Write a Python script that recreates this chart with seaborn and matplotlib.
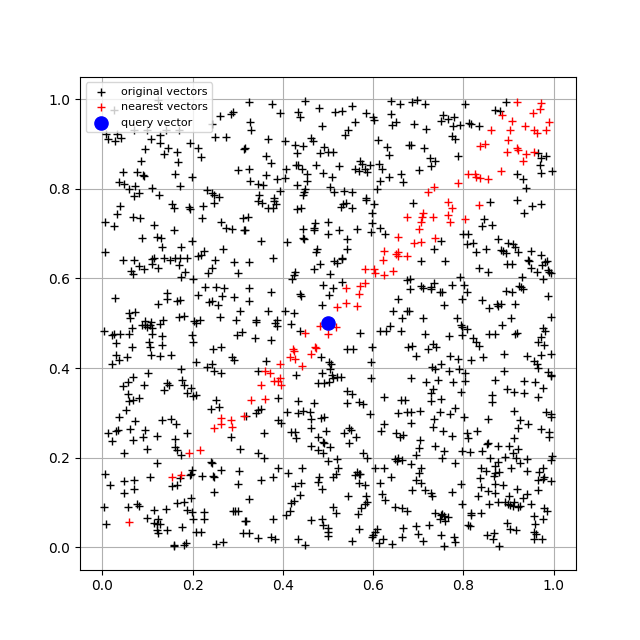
import matplotlib
matplotlib.use("Agg")
import matplotlib.pyplot as plt
import seaborn as sns
import pandas as pd

# ---- original vectors (grouped by region) ----
orig_top = [
 (0.289,0.972),(0.285,0.967),(0.260,0.962),(0.243,0.945),(0.249,0.915),(0.275,0.915),(0.313,0.889),
 (0.009,0.923),(0.012,0.911),(0.027,0.907),(0.033,0.923),(0.042,0.914),(0.108,0.911),(0.128,0.920),
 (0.128,0.903),(0.194,0.903),(0.212,0.890),(0.219,0.871),(0.146,0.892),(0.137,0.878),(0.166,0.883),
 (0.095,0.889),(0.086,0.863),(0.168,0.859),(0.045,0.838),(0.077,0.837),(0.090,0.830),(0.093,0.828),
 (0.161,0.832),(0.199,0.827),(0.300,0.841),(0.038,0.815),(0.048,0.811),(0.073,0.807),(0.060,0.799),
 (0.111,0.801),(0.172,0.806),(0.231,0.797),(0.243,0.791),(0.248,0.785),(0.258,0.782),(0.082,0.790),
 (0.070,0.784),(0.126,0.786),(0.026,0.976),(0.124,0.998),(0.071,0.931),(0.100,0.931),(0.141,0.931),
 (0.170,0.931),
 (0.325,0.994),(0.376,0.989),(0.394,0.969),(0.448,0.996),(0.433,0.972),(0.437,0.959),(0.479,0.980),
 (0.516,0.971),(0.530,0.974),(0.554,0.985),(0.585,0.970),(0.600,0.959),(0.603,0.954),(0.640,0.996),
 (0.659,0.990),(0.640,0.967),(0.642,0.942),(0.651,0.948),(0.327,0.948),(0.330,0.930),(0.367,0.911),
 (0.405,0.906),(0.486,0.941),(0.537,0.920),(0.544,0.930),(0.559,0.950),(0.462,0.914),(0.467,0.906),
 (0.611,0.908),(0.631,0.894),(0.635,0.876),(0.679,0.898),(0.317,0.891),(0.427,0.898),(0.444,0.896),
 (0.431,0.880),(0.492,0.893),(0.483,0.880),(0.499,0.881),(0.511,0.883),(0.363,0.874),(0.374,0.858),
 (0.325,0.843),(0.363,0.830),(0.327,0.818),(0.345,0.810),(0.356,0.808),(0.387,0.821),(0.405,0.824),
 (0.407,0.843),(0.428,0.852),(0.433,0.852),(0.442,0.843),(0.453,0.832),(0.453,0.818),(0.473,0.852),
 (0.490,0.835),(0.508,0.826),(0.525,0.850),(0.559,0.844),(0.568,0.839),(0.570,0.863),(0.576,0.856),
 (0.583,0.844),(0.587,0.838),(0.593,0.852),(0.612,0.856),(0.620,0.845),(0.635,0.827),(0.662,0.834),
 (0.667,0.815),(0.615,0.818),(0.609,0.800),(0.431,0.808),(0.450,0.799),(0.446,0.793),(0.444,0.785),
 (0.505,0.804),(0.513,0.793),(0.536,0.794),(0.554,0.793),(0.585,0.779),(0.393,0.794),(0.347,0.785),
 (0.380,0.779),
 (0.687,0.993),(0.697,0.999),(0.716,0.989),(0.803,0.989),(0.895,0.993),(0.871,0.976),(0.882,0.973),
 (0.755,0.965),(0.751,0.952),(0.765,0.955),(0.779,0.959),(0.778,0.940),(0.793,0.942),(0.813,0.946),
 (0.816,0.945),(0.834,0.939),(0.690,0.945),(0.718,0.933),(0.684,0.898),(0.712,0.892),(0.774,0.918),
 (0.781,0.911),(0.788,0.874),(0.726,0.869),(0.738,0.861),(0.729,0.850),(0.701,0.841),(0.966,0.880),
 (0.972,0.869),(0.983,0.872),(0.970,0.854),(0.996,0.839),(0.971,0.835),(0.919,0.834),(0.933,0.821),
 (0.939,0.801),
]
orig_upper_mid = [
 (0.040,0.762),(0.033,0.743),(0.005,0.726),(0.025,0.717),(0.068,0.737),(0.084,0.735),(0.114,0.720),
 (0.155,0.765),(0.158,0.756),(0.192,0.759),(0.194,0.754),(0.223,0.762),(0.247,0.768),(0.220,0.735),
 (0.263,0.726),(0.275,0.713),(0.288,0.710),(0.313,0.708),(0.311,0.735),(0.158,0.708),(0.087,0.691),
 (0.121,0.693),(0.131,0.689),(0.133,0.671),(0.174,0.669),(0.199,0.683),(0.005,0.658),(0.046,0.640),
 (0.070,0.640),(0.082,0.627),(0.092,0.621),(0.110,0.644),(0.114,0.646),(0.109,0.632),(0.124,0.624),
 (0.136,0.645),(0.150,0.640),(0.161,0.645),(0.171,0.646),(0.187,0.646),(0.170,0.629),(0.183,0.615),
 (0.174,0.602),(0.201,0.599),(0.212,0.651),(0.219,0.652),(0.226,0.660),(0.267,0.666),(0.249,0.641),
 (0.243,0.624),(0.234,0.611),(0.291,0.636),(0.300,0.613),(0.064,0.617),(0.067,0.610),(0.029,0.556),
 (0.124,0.543),(0.143,0.568),(0.143,0.555),(0.166,0.549),(0.172,0.551),(0.212,0.564),(0.227,0.580),
 (0.252,0.580),(0.270,0.579),(0.265,0.560),(0.291,0.558),(0.236,0.548),(0.243,0.549),(0.256,0.540),
 (0.305,0.527),(0.060,0.523),(0.073,0.525),(0.062,0.512),(0.095,0.505),(0.108,0.503),(0.134,0.508),
 (0.170,0.514),(0.182,0.517),(0.204,0.506),(0.216,0.508),(0.260,0.514),(0.297,0.508),
 (0.345,0.772),(0.354,0.769),(0.380,0.772),(0.385,0.765),(0.366,0.756),(0.378,0.757),(0.432,0.754),
 (0.440,0.757),(0.528,0.759),(0.534,0.765),(0.539,0.769),(0.554,0.757),(0.585,0.774),(0.603,0.765),
 (0.598,0.745),(0.323,0.737),(0.317,0.708),(0.351,0.683),(0.410,0.682),(0.444,0.710),(0.471,0.723),
 (0.468,0.713),(0.470,0.708),(0.499,0.726),(0.499,0.700),(0.525,0.708),(0.565,0.710),(0.598,0.723),
 (0.596,0.704),(0.615,0.713),(0.627,0.698),(0.444,0.691),(0.446,0.688),(0.543,0.688),(0.543,0.666),
 (0.475,0.666),(0.473,0.658),(0.514,0.639),(0.519,0.634),(0.532,0.646),(0.530,0.644),(0.483,0.632),
 (0.468,0.621),(0.505,0.610),(0.427,0.615),(0.424,0.608),(0.421,0.599),(0.325,0.636),(0.378,0.645),
 (0.325,0.579),(0.374,0.569),(0.325,0.549),(0.367,0.528),(0.405,0.528),(0.424,0.522),(0.437,0.566),
 (0.440,0.560),(0.490,0.585),(0.510,0.579),(0.532,0.592),(0.503,0.562),(0.486,0.540),(0.341,0.507),
 (0.388,0.508),(0.656,0.554),(0.645,0.528),(0.664,0.512),(0.675,0.527),(0.676,0.597),
 (0.689,0.769),(0.860,0.770),(0.919,0.776),(0.952,0.762),(0.972,0.766),(0.935,0.745),(0.846,0.732),
 (0.841,0.717),(0.863,0.720),(0.799,0.698),(0.810,0.698),(0.809,0.676),(0.822,0.680),(0.876,0.688),
 (0.899,0.680),(0.910,0.676),(0.915,0.671),(0.750,0.683),(0.735,0.665),(0.827,0.658),(0.851,0.665),
 (0.884,0.663),(0.888,0.660),(0.895,0.656),(0.921,0.658),(0.949,0.662),(0.972,0.652),(0.943,0.641),
 (0.946,0.638),(0.897,0.632),(0.907,0.632),(0.707,0.639),(0.759,0.639),(0.835,0.623),(0.854,0.615),
 (0.949,0.623),(0.963,0.614),(0.974,0.629),(0.981,0.636),(0.985,0.638),(0.987,0.619),(0.990,0.614),
 (0.994,0.612),(0.929,0.604),(0.976,0.599),(0.682,0.599),(0.792,0.602),(0.735,0.590),(0.728,0.580),
 (0.729,0.577),(0.711,0.579),(0.706,0.582),(0.682,0.577),(0.748,0.570),(0.753,0.570),(0.775,0.585),
 (0.801,0.585),(0.809,0.570),(0.757,0.540),(0.797,0.553),(0.841,0.551),(0.857,0.533),(0.875,0.543),
 (0.876,0.538),(0.884,0.543),(0.895,0.571),(0.907,0.570),(0.915,0.543),(0.924,0.582),(0.928,0.580),
 (0.931,0.577),(0.988,0.560),(0.994,0.514),(0.906,0.511),(0.711,0.512),(0.785,0.511),(0.679,0.527),
]
orig_lower_mid = [
 (0.004,0.483),(0.021,0.474),(0.026,0.477),(0.040,0.477),(0.060,0.475),(0.066,0.489),(0.087,0.496),
 (0.095,0.497),(0.100,0.492),(0.106,0.496),(0.111,0.475),(0.111,0.490),(0.127,0.499),(0.133,0.472),
 (0.031,0.455),(0.066,0.447),(0.104,0.459),(0.106,0.446),(0.133,0.452),(0.031,0.430),(0.036,0.418),
 (0.055,0.425),(0.108,0.430),(0.128,0.427),(0.153,0.430),(0.021,0.409),(0.199,0.474),(0.201,0.457),
 (0.207,0.501),(0.245,0.442),(0.262,0.447),(0.287,0.425),(0.292,0.418),(0.298,0.474),(0.309,0.481),
 (0.207,0.413),(0.232,0.403),(0.242,0.409),(0.247,0.393),(0.264,0.388),(0.174,0.398),(0.102,0.389),
 (0.069,0.379),(0.056,0.368),(0.045,0.359),(0.093,0.363),(0.144,0.366),(0.148,0.363),(0.137,0.351),
 (0.177,0.373),(0.182,0.363),(0.197,0.356),(0.187,0.344),(0.201,0.337),(0.207,0.339),(0.056,0.342),
 (0.058,0.326),(0.067,0.328),(0.082,0.334),(0.053,0.306),(0.038,0.291),(0.073,0.282),(0.133,0.283),
 (0.152,0.287),(0.164,0.274),(0.187,0.256),(0.012,0.255),(0.031,0.260),(0.034,0.261),(0.062,0.263),
 (0.095,0.261),(0.089,0.246),(0.121,0.249),(0.160,0.241),(0.021,0.238),(0.067,0.239),(0.251,0.329),
 (0.240,0.309),(0.258,0.313),(0.285,0.246),
 (0.341,0.503),(0.383,0.501),(0.386,0.494),(0.417,0.499),(0.437,0.483),(0.339,0.468),(0.373,0.462),
 (0.572,0.479),(0.615,0.483),(0.629,0.483),(0.637,0.494),(0.662,0.483),(0.543,0.442),(0.556,0.442),
 (0.598,0.447),(0.678,0.447),(0.484,0.424),(0.503,0.413),(0.506,0.410),(0.363,0.415),(0.596,0.413),
 (0.344,0.393),(0.429,0.385),(0.486,0.388),(0.505,0.398),(0.508,0.385),(0.478,0.366),(0.492,0.367),
 (0.503,0.368),(0.512,0.378),(0.519,0.381),(0.528,0.379),(0.596,0.378),(0.541,0.348),(0.554,0.341),
 (0.543,0.322),(0.568,0.324),(0.578,0.320),(0.623,0.335),(0.662,0.328),(0.671,0.328),(0.390,0.334),
 (0.433,0.326),(0.470,0.322),(0.345,0.307),(0.352,0.309),(0.341,0.300),(0.410,0.302),(0.433,0.300),
 (0.444,0.304),(0.461,0.302),(0.462,0.287),(0.484,0.289),(0.492,0.291),(0.594,0.298),(0.654,0.300),
 (0.675,0.302),(0.319,0.294),(0.389,0.283),(0.395,0.277),(0.462,0.267),(0.495,0.260),(0.547,0.267),
 (0.550,0.261),(0.536,0.254),(0.561,0.245),(0.618,0.260),(0.623,0.275),(0.651,0.255),(0.659,0.245),
 (0.666,0.250),(0.358,0.255),(0.418,0.258),(0.426,0.258),(0.429,0.243),(0.478,0.245),(0.490,0.235),
 (0.794,0.497),(0.797,0.492),(0.809,0.486),(0.716,0.477),(0.768,0.472),(0.797,0.474),(0.821,0.466),
 (0.829,0.457),(0.834,0.449),(0.857,0.477),(0.869,0.475),(0.885,0.496),(0.915,0.475),(0.919,0.479),
 (0.976,0.489),(0.981,0.483),(0.971,0.469),(0.965,0.457),(0.979,0.452),(0.687,0.449),(0.721,0.442),
 (0.733,0.453),(0.740,0.447),(0.694,0.427),(0.770,0.427),(0.787,0.420),(0.816,0.418),(0.843,0.425),
 (0.891,0.432),(0.941,0.427),(0.972,0.430),(0.994,0.432),(0.957,0.415),(0.963,0.409),(0.966,0.401),
 (0.731,0.403),(0.738,0.398),(0.751,0.409),(0.768,0.393),(0.790,0.398),(0.804,0.389),(0.684,0.378),
 (0.718,0.368),(0.733,0.354),(0.743,0.373),(0.778,0.368),(0.803,0.370),(0.794,0.346),(0.728,0.344),
 (0.728,0.326),(0.751,0.331),(0.869,0.373),(0.890,0.393),(0.897,0.354),(0.913,0.346),(0.935,0.344),
 (0.935,0.372),(0.959,0.368),(0.976,0.356),(0.966,0.335),(0.987,0.390),(0.993,0.385),(0.994,0.382),
 (0.863,0.339),(0.863,0.324),(0.684,0.302),(0.704,0.304),(0.748,0.302),(0.770,0.297),(0.782,0.311),
 (0.801,0.291),(0.735,0.287),(0.733,0.269),(0.755,0.260),(0.775,0.248),(0.684,0.277),(0.704,0.239),
 (0.809,0.254),(0.810,0.243),(0.831,0.259),(0.854,0.287),(0.913,0.304),(0.926,0.283),(0.943,0.275),
 (0.922,0.267),(0.972,0.263),(0.983,0.302),(0.993,0.297),(0.994,0.291),(0.990,0.258),(0.990,0.246),
 (0.912,0.244),(0.854,0.233),
]
orig_bottom = [
 (0.048,0.211),(0.099,0.220),(0.160,0.224),(0.166,0.217),(0.174,0.205),(0.304,0.220),(0.121,0.187),
 (0.241,0.190),(0.243,0.187),(0.263,0.173),(0.302,0.170),(0.199,0.173),(0.196,0.163),(0.005,0.163),
 (0.016,0.139),(0.049,0.148),(0.070,0.151),(0.106,0.156),(0.071,0.130),(0.048,0.121),(0.155,0.137),
 (0.165,0.139),(0.172,0.154),(0.194,0.161),(0.221,0.159),(0.245,0.159),(0.247,0.156),(0.300,0.141),
 (0.247,0.124),(0.197,0.111),(0.165,0.099),(0.181,0.102),(0.077,0.097),(0.082,0.092),(0.056,0.089),
 (0.004,0.089),(0.114,0.084),(0.141,0.086),(0.187,0.084),(0.199,0.078),(0.225,0.078),(0.289,0.082),
 (0.295,0.082),(0.300,0.082),(0.100,0.065),(0.124,0.063),(0.122,0.052),(0.115,0.055),(0.128,0.052),
 (0.121,0.038),(0.124,0.032),(0.144,0.038),(0.177,0.045),(0.201,0.062),(0.226,0.063),(0.316,0.058),
 (0.207,0.034),(0.218,0.035),(0.311,0.032),(0.009,0.052),(0.158,0.006),(0.159,0.003),(0.181,0.006),
 (0.185,0.010),(0.251,0.007),(0.267,0.012),
 (0.345,0.210),(0.358,0.200),(0.462,0.226),(0.477,0.218),(0.488,0.210),(0.492,0.232),(0.505,0.224),
 (0.547,0.232),(0.499,0.193),(0.519,0.196),(0.523,0.178),(0.512,0.156),(0.517,0.163),(0.481,0.156),
 (0.478,0.146),(0.486,0.131),(0.440,0.143),(0.426,0.136),(0.437,0.117),(0.424,0.104),(0.418,0.098),
 (0.415,0.080),(0.407,0.071),(0.390,0.178),(0.442,0.176),(0.412,0.165),(0.378,0.156),(0.351,0.151),
 (0.325,0.108),(0.578,0.210),(0.587,0.200),(0.565,0.168),(0.568,0.163),(0.572,0.163),(0.559,0.161),
 (0.568,0.143),(0.581,0.139),(0.605,0.176),(0.623,0.178),(0.640,0.156),(0.615,0.143),(0.620,0.119),
 (0.627,0.106),(0.544,0.114),(0.585,0.115),(0.587,0.100),(0.583,0.097),(0.574,0.087),(0.566,0.075),
 (0.510,0.089),(0.517,0.076),(0.649,0.198),(0.653,0.193),(0.654,0.200),(0.664,0.195),(0.649,0.089),
 (0.664,0.087),(0.675,0.082),(0.462,0.060),(0.486,0.062),(0.488,0.050),(0.499,0.043),(0.499,0.034),
 (0.499,0.025),(0.319,0.058),(0.378,0.062),(0.325,0.032),(0.344,0.021),(0.374,0.023),(0.383,0.019),
 (0.433,0.018),(0.448,0.004),(0.554,0.013),(0.568,0.040),(0.600,0.027),(0.605,0.035),(0.609,0.040),
 (0.598,0.023),(0.622,0.019),(0.612,0.010),(0.642,0.008),(0.664,0.023),(0.667,0.043),
 (0.701,0.222),(0.696,0.205),(0.738,0.227),(0.757,0.215),(0.753,0.200),(0.797,0.215),(0.814,0.213),
 (0.841,0.215),(0.853,0.230),(0.876,0.226),(0.902,0.226),(0.921,0.220),(0.910,0.210),(0.917,0.200),
 (0.893,0.202),(0.860,0.200),(0.876,0.190),(0.869,0.182),(0.871,0.165),(0.868,0.159),(0.878,0.168),
 (0.849,0.170),(0.840,0.176),(0.836,0.154),(0.838,0.134),(0.854,0.126),(0.871,0.121),(0.871,0.141),
 (0.888,0.139),(0.906,0.178),(0.926,0.187),(0.941,0.196),(0.941,0.170),(0.968,0.167),(0.976,0.178),
 (0.965,0.151),(0.979,0.156),(0.976,0.152),(0.993,0.148),(0.996,0.204),(0.994,0.195),(0.684,0.185),
 (0.706,0.176),(0.701,0.165),(0.696,0.151),(0.707,0.143),(0.687,0.128),(0.716,0.128),(0.729,0.121),
 (0.731,0.115),(0.775,0.124),(0.782,0.187),(0.794,0.141),(0.832,0.115),(0.856,0.097),(0.876,0.100),
 (0.893,0.100),(0.899,0.097),(0.904,0.094),(0.912,0.102),(0.910,0.092),(0.922,0.089),(0.926,0.092),
 (0.950,0.097),(0.902,0.114),(0.932,0.109),(0.941,0.119),(0.919,0.131),(0.966,0.128),(0.978,0.087),
 (0.985,0.080),(0.976,0.063),(0.956,0.069),(0.959,0.052),(0.956,0.035),(0.961,0.030),(0.956,0.018),
 (0.974,0.018),(0.797,0.097),(0.816,0.077),(0.816,0.072),(0.838,0.077),(0.810,0.050),(0.814,0.047),
 (0.738,0.077),(0.750,0.072),(0.753,0.075),(0.757,0.069),(0.748,0.062),(0.760,0.058),(0.765,0.067),
 (0.696,0.047),(0.724,0.050),(0.699,0.030),(0.711,0.015),(0.750,0.028),(0.779,0.023),(0.782,0.012),
 (0.757,0.003),(0.853,0.027),(0.868,0.032),(0.865,0.019),(0.878,0.003),(0.897,0.055),(0.904,0.040),
 (0.917,0.038),
]

# ---- nearest vectors ----
nearest = [
 (0.919,0.993),(0.971,0.992),(0.970,0.979),(0.954,0.970),(0.886,0.965),(0.908,0.951),(0.990,0.950),
 (0.937,0.939),(0.956,0.931),(0.963,0.925),(0.983,0.930),(0.862,0.931),(0.904,0.930),(0.899,0.908),
 (0.836,0.896),(0.847,0.900),(0.918,0.892),(0.922,0.887),(0.897,0.883),(0.939,0.878),(0.957,0.881),
 (0.932,0.861),(0.810,0.832),(0.825,0.832),(0.829,0.827),(0.836,0.823),(0.854,0.821),(0.884,0.839),
 (0.787,0.813),(0.735,0.804),(0.721,0.793),
 (0.765,0.770),(0.774,0.756),(0.834,0.763),(0.711,0.745),(0.709,0.737),(0.706,0.725),(0.733,0.737),
 (0.766,0.742),(0.770,0.725),(0.804,0.732),(0.701,0.710),(0.738,0.691),(0.690,0.680),(0.706,0.682),
 (0.675,0.737),(0.656,0.693),(0.623,0.660),(0.622,0.641),(0.651,0.654),(0.656,0.658),(0.654,0.651),
 (0.676,0.651),(0.583,0.621),(0.601,0.621),(0.605,0.612),(0.625,0.608),(0.644,0.617),(0.539,0.579),
 (0.571,0.582),(0.583,0.590),(0.568,0.566),(0.539,0.544),(0.521,0.537),(0.565,0.538),
 (0.483,0.494),(0.517,0.492),(0.499,0.477),(0.448,0.479),(0.422,0.442),(0.424,0.437),(0.471,0.447),
 (0.473,0.444),(0.462,0.432),(0.415,0.424),(0.427,0.420),(0.393,0.410),(0.442,0.405),(0.360,0.394),
 (0.371,0.388),(0.393,0.378),(0.380,0.372),(0.389,0.372),(0.396,0.363),(0.351,0.361),(0.330,0.328),
 (0.361,0.331),
 (0.264,0.289),(0.262,0.275),(0.247,0.267),(0.286,0.285),(0.287,0.269),(0.313,0.293),
 (0.192,0.211),(0.216,0.218),(0.155,0.156),(0.174,0.161),(0.060,0.056),
]

query = [(0.5, 0.5)]

orig = orig_top + orig_upper_mid + orig_lower_mid + orig_bottom
df_o = pd.DataFrame(orig, columns=["x", "y"])
df_n = pd.DataFrame(nearest, columns=["x", "y"])
df_q = pd.DataFrame(query, columns=["x", "y"])

fig, ax = plt.subplots(figsize=(6.4, 6.4), dpi=100)
sns.scatterplot(data=df_o, x="x", y="y", marker="+", color="black", s=40,
                linewidth=1, label="original vectors", ax=ax, zorder=2)
sns.scatterplot(data=df_n, x="x", y="y", marker="+", color="red", s=40,
                linewidth=1, label="nearest vectors", ax=ax, zorder=3)
sns.scatterplot(data=df_q, x="x", y="y", marker="o", color="blue", s=90,
                edgecolor="blue", linewidth=1, label="query vector", ax=ax, zorder=4)
ax.grid(True)
ax.set_axisbelow(True)
ax.set_xlabel("")
ax.set_ylabel("")
ax.set_xlim(-0.0495, 1.0495)
ax.set_ylim(-0.0498, 1.0498)
ax.legend(loc="upper left", fontsize=8)
fig.savefig("out.png", dpi=100)
